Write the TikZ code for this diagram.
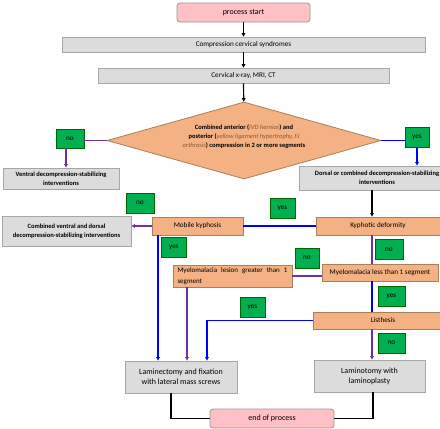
\documentclass[tikz,border=0pt]{standalone}
\usepackage{fontspec}
\setmainfont{Carlito}
\usepackage{tikz}
\usetikzlibrary{shapes.geometric,arrows.meta}
\definecolor{pinkfill}{HTML}{FFC0C6}
\definecolor{grayfill}{HTML}{DCDCDC}
\definecolor{orangefill}{HTML}{F4B183}
\definecolor{greenfill}{HTML}{00B050}
\definecolor{purpleline}{HTML}{7030A0}
\definecolor{blueline}{HTML}{0000FF}
\definecolor{italbrown}{HTML}{8A5A30}
\tikzstyle{txt}       = [font=\fontsize{7.2}{9}\selectfont, inner sep=1pt, align=center]
\tikzstyle{boldtxt}   = [font=\fontsize{6.5}{9}\selectfont\bfseries]
\tikzstyle{bigtxt}    = [font=\fontsize{8}{10}\selectfont]
\tikzstyle{endbox}    = [txt, bigtxt, draw=gray!80, fill=pinkfill, rounded corners=3pt, line width=0.8pt]
\tikzstyle{graybox}   = [txt, draw=gray!70, fill=grayfill, line width=0.8pt]
\tikzstyle{orangebox} = [txt, draw=gray!70!orange, fill=orangefill, line width=0.8pt]
\tikzstyle{answer}    = [txt, draw=green!40!black, fill=greenfill, line width=0.6pt, minimum width=26, minimum height=20, anchor=center]
\tikzstyle{arrow}     = [line width=1.2pt,-{Triangle[length=3.5pt,width=3.5pt]}]
\tikzstyle{link}      = [line width=1.2pt]

\begin{document}
\begin{tikzpicture}[x=1pt,y=-1pt]
           \useasboundingbox (0,0) rectangle (440,429);
           % main column
           \node[endbox, minimum width=133, minimum height=19](start)at(243.5, 12.5){process start};
           \node[graybox, minimum width=363, minimum height=15](syn)at(243.5, 44.5){Compression cervical syndromes};
           \node[graybox, minimum width=291, minimum height=15](xray)at(243.5, 75.5){Cervical x-ray, MRI, CT};
           \node[diamond, draw=gray!70!orange, fill=orangefill, line width=0.8pt, inner sep=0pt,
                 minimum width=274, minimum height=77](dec)at(244, 140.5){};
           \node[txt, boldtxt](dectext)at(244, 137){Combined anterior (\textcolor{italbrown}{\mdseries\itshape IVD hernias}) and\\
                 posterior (\textcolor{italbrown}{\mdseries\itshape yellow ligament hypertrophy, FJ}\\
                 \textcolor{italbrown}{\mdseries\itshape orthrosis}) compression in 2 or more segments};
           \node[answer, minimum width=28, minimum height=19](no1)at(70, 138.5){no};
           \node[answer, minimum width=24](yes1)at(417, 137){yes};
           \node[graybox, boldtxt, minimum width=116, minimum height=21](ventral)at(61, 178.5){Ventral decompression-stabilizing\\interventions};
           \node[graybox, boldtxt, minimum width=156, minimum height=24](dorsal)at(377, 178){Dorsal or combined decompression-stabilizing\\interventions};
           % kyphosis row
           \node[answer, minimum width=28](no2)at(140, 203){no};
           \node[answer, minimum width=25](yes2)at(282.5, 208){yes};
           \node[graybox, boldtxt, minimum width=129, minimum height=30](combined)at(66.5, 231){Combined ventral and dorsal\\decompression-stabilizing interventions};
           \node[orangebox, minimum width=91, minimum height=18](mobile)at(197.5, 226){Mobile kyphosis};
           \node[orangebox, minimum width=124, minimum height=18](kyph)at(378, 226){Kyphotic deformity};
           \node[answer, minimum width=25](yes3)at(174, 247.5){yes};
           \node[answer, minimum width=24](no3)at(307, 258){no};
           \node[answer, minimum width=28](no4)at(389, 249.5){no};
           % myelomalacia row
           \node[orangebox, minimum width=119, minimum height=22, text width=110, align=justify,
                 font=\fontsize{7}{11}\selectfont](myelog)at(232.5, 276){Myelomalacia lesion greater than 1 \mbox{segment}};
           \node[orangebox, minimum width=116, minimum height=17](myelol)at(380, 272.5){Myelomalacia less than 1 segment};
           \node[answer, minimum width=27](yes4)at(391.5, 296){yes};
           \node[answer, minimum width=25](yes5)at(252.5, 307){yes};
           \node[orangebox, minimum width=140, minimum height=17](listh)at(383, 320.5){Listhesis};
           \node[answer, minimum width=27](no5)at(391.5, 343){no};
           % results
           \node[graybox, bigtxt, minimum width=112, minimum height=32](lamin)at(181, 377){Laminectomy and fixation\\with lateral mass screws};
           \node[graybox, bigtxt, minimum width=111, minimum height=32](lamino)at(369.5, 376){Laminotomy with\\laminoplasty};
           \node[endbox, minimum width=124, minimum height=19](end)at(272, 418.5){end of process};
           % connectors
           \draw[arrow](start)--(syn);
           \draw[arrow](syn)--(xray);
           \draw[arrow](xray)--(dec);
           \draw[link, purpleline](dec.west)--(no1.east |- dec.west);
           \draw[arrow, purpleline]([xshift=-4]no1.south)--([xshift=-4]no1.south |- ventral.north);
           \draw[link, blueline](dec.east)--(yes1.west |- dec.east);
           \draw[arrow, blueline](yes1.south)--(yes1.south |- dorsal.north);
           \draw[arrow]([xshift=-5]dorsal.south)--([xshift=-5]dorsal.south |- kyph.north);
           \draw[link, blueline](kyph.west)--(mobile.east);
           \draw[arrow, purpleline](mobile.west)--(combined.east |- mobile.west);
           \draw[arrow, blueline]([xshift=-39.5]mobile.south)--([xshift=-39.5]mobile.south |- lamin.north);
           \draw[link, purpleline]([xshift=-6]kyph.south)--([xshift=-6]kyph.south |- myelol.north);
           \draw[link, purpleline](myelog.east)--(myelog.east -| myelol.west);
           \draw[arrow, purpleline]([xshift=-45.5]myelog.south)--([xshift=-45.5]myelog.south |- lamin.north);
           \draw[link, blueline]([xshift=-8]myelol.south)--([xshift=-8]myelol.south |- listh.north);
           \draw[arrow, blueline](listh.west)-|([xshift=26]lamin.north);
           \draw[arrow, purpleline]([xshift=-11]listh.south)--([xshift=-11]listh.south |- lamino.north);
           \draw[link]([xshift=-10]lamin.south)|-(end.west);
           \draw[link]([xshift=3.5]lamino.south)|-(end.east);
\end{tikzpicture}
\end{document}
